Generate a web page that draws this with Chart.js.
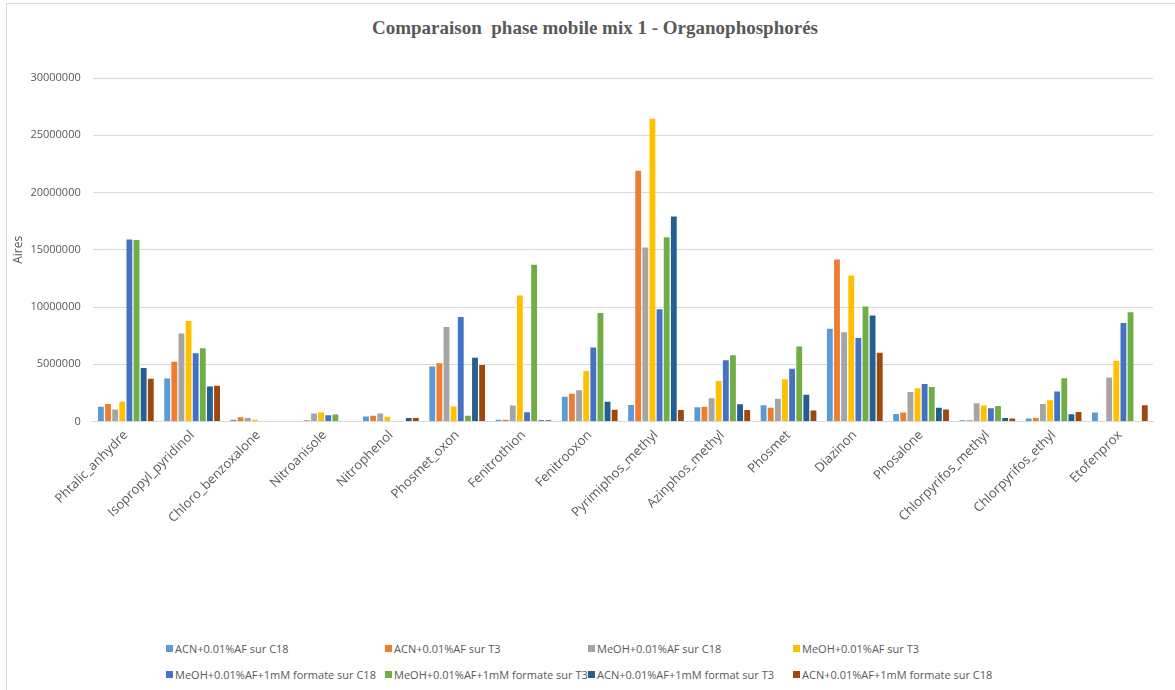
<!DOCTYPE html>
<html>
<head>
<meta charset="utf-8">
<script src="https://cdn.jsdelivr.net/npm/chart.js@4.4.0/dist/chart.umd.min.js"></script>
<style>
    body { margin: 0; background: #fff; overflow: hidden; }
    #wrap { position: relative; width: 1175px; height: 690px; }
    #frame { position: absolute; left: 6px; top: 3px; width: 1180px; height: 700px; border: 1px solid #d9d9d9; box-sizing: border-box; }
    #chartBox { position: absolute; left: 0; top: 0; }
    #title { position: absolute; left: 0; top: 17px; width: 1190px; text-align: center;
             font-family: "Liberation Serif", serif; font-weight: bold; font-size: 19px; color: #595959; }
    #legend { position: absolute; left: 166px; top: 639px; display: grid; grid-template-columns: 219px 203px 205px 220px; row-gap: 8px;
              font-family: "Open Sans", sans-serif; font-size: 11px; color: #595959; }
    #legend div { display: flex; align-items: center; white-space: nowrap; height: 18px; }
    #legend span.box { display: inline-block; width: 7px; height: 7px; margin-right: 2px; }
</style>
</head>
<body>
<div id="wrap">
    <div id="frame"></div>
    <div id="title">Comparaison&nbsp; phase mobile mix 1 - Organophosphorés</div>
    <div id="chartBox"><canvas id="chart" width="1175" height="532"></canvas></div>
    <div id="legend"></div>
</div>
<script>
// Categories and series
const categories = ['Phtalic_anhydre', 'Isopropyl_pyridinol', 'Chloro_benzoxalone', 'Nitroanisole', 'Nitrophenol',
    'Phosmet_oxon', 'Fenitrothion', 'Fenitrooxon', 'Pyrimiphos_methyl', 'Azinphos_methyl', 'Phosmet',
    'Diazinon', 'Phosalone', 'Chlorpyrifos_methyl', 'Chlorpyrifos_ethyl', 'Etofenprox'];

const seriesNames = ['ACN+0.01%AF sur C18', 'ACN+0.01%AF sur T3', 'MeOH+0.01%AF sur C18', 'MeOH+0.01%AF sur T3',
    'MeOH+0.01%AF+1mM formate sur C18', 'MeOH+0.01%AF+1mM formate sur T3', 'ACN+0.01%AF+1mM format sur T3',
    'ACN+0.01%AF+1mM formate sur C18'];

const acnC18 = [1300000, 3750000, 150000, 0, 440000, 4800000, 150000, 2160000, 1440000, 1250000, 1420000, 8100000, 650000, 110000, 260000, 790000];
const acnT3 = [1530000, 5230000, 380000, 120000, 500000, 5100000, 150000, 2420000, 21900000, 1300000, 1200000, 14150000, 790000, 110000, 320000, 0];
const meohC18 = [1050000, 7680000, 320000, 700000, 700000, 8260000, 1400000, 2740000, 15200000, 2030000, 2000000, 7800000, 2570000, 1600000, 1540000, 3850000];
const meohT3 = [1720000, 8770000, 150000, 820000, 410000, 1310000, 11000000, 4410000, 26450000, 3550000, 3700000, 12750000, 2900000, 1400000, 1870000, 5300000];
const meohFormC18 = [15900000, 5960000, 0, 560000, 0, 9130000, 820000, 6460000, 9800000, 5360000, 4600000, 7300000, 3280000, 1170000, 2630000, 8600000];
const meohFormT3 = [15850000, 6400000, 0, 610000, 0, 500000, 13700000, 9470000, 16100000, 5800000, 6550000, 10050000, 3020000, 1350000, 3790000, 9550000];
const acnFormT3 = [4670000, 3070000, 0, 0, 300000, 5570000, 120000, 1720000, 17900000, 1500000, 2350000, 9250000, 1200000, 320000, 640000, 0];
const acnFormC18 = [3740000, 3120000, 0, 0, 300000, 4930000, 120000, 1020000, 1000000, 1000000, 960000, 6000000, 1050000, 260000, 840000, 1430000];

const colors = ['#5B9BD5', '#ED7D31', '#A5A5A5', '#FFC000', '#4472C4', '#70AD47', '#255E91', '#9E480E'];
const allSeries = [acnC18, acnT3, meohC18, meohT3, meohFormC18, meohFormT3, acnFormT3, acnFormC18];

const datasets = allSeries.map(function(values, i) {
    return {
        label: seriesNames[i],
        data: values,
        backgroundColor: colors[i],
        borderWidth: 0,
        barPercentage: 0.82,
        categoryPercentage: 0.86
    };
});

const ctx = document.getElementById('chart').getContext('2d');
const chart = new Chart(ctx, {
    type: 'bar',
    data: { labels: categories, datasets: datasets },
    options: {
        responsive: false,
        animation: false,
        layout: { padding: { left: 4, right: 22, top: 78, bottom: 0 } },
        plugins: {
            legend: { display: false },
            tooltip: { enabled: false }
        },
        scales: {
            x: {
                grid: { display: false, drawTicks: false },
                border: { color: '#d9d9d9', width: 1 },
                ticks: {
                    color: '#595959',
                    font: { family: 'Open Sans', size: 13 },
                    minRotation: 45, maxRotation: 45,
                    autoSkip: false,
                    padding: 6
                }
            },
            y: {
                min: 0, max: 30000000,
                grid: { color: '#d9d9d9', drawTicks: false },
                border: { display: false },
                ticks: {
                    stepSize: 5000000,
                    color: '#595959',
                    font: { family: 'Open Sans', size: 11 },
                    padding: 12,
                    callback: function(value) { return String(value); }
                },
                title: {
                    display: true,
                    text: 'Aires',
                    color: '#595959',
                    font: { family: 'Open Sans', size: 12 },
                    padding: { top: 7, bottom: -7 }
                }
            }
        }
    }
});

// Legend laid out in four columns, like the original
const legendEl = document.getElementById('legend');
seriesNames.forEach(function(name, i) {
    const item = document.createElement('div');
    item.innerHTML = '<span class="box" style="background:' + colors[i] + '"></span>' + name;
    legendEl.appendChild(item);
});
</script>
</body>
</html>
